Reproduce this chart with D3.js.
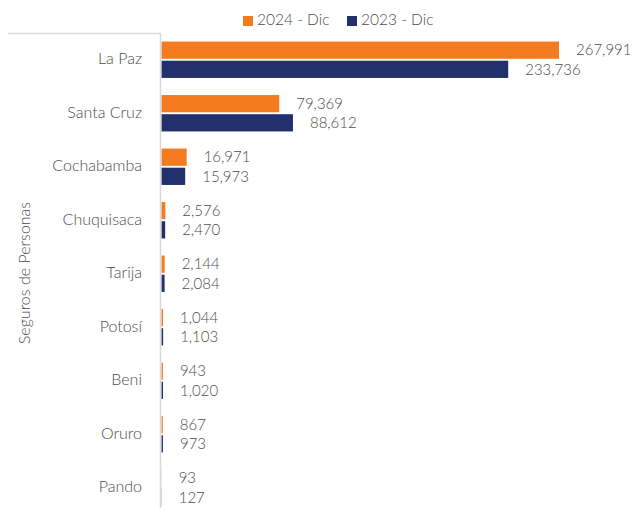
<!DOCTYPE html>
<html>
<head>
<meta charset="utf-8">
<script src="https://cdn.jsdelivr.net/npm/d3@7"></script>
<style>
  html, body { margin: 0; padding: 0; background: #fff; }
  svg { display: block; font-family: Lato, "Open Sans", sans-serif; font-weight: 300; }
</style>
</head>
<body>
<div id="chart"></div>
<script>
// categories and series (Seguros de Personas, Dic)
const categories = ['La Paz', 'Santa Cruz', 'Cochabamba', 'Chuquisaca', 'Tarija', 'Potosí', 'Beni', 'Oruro', 'Pando'];
const series = ['2024 - Dic', '2023 - Dic'];
const values2024 = [267991, 79369, 16971, 2576, 2144, 1044, 943, 867, 93];
const values2023 = [233736, 88612, 15973, 2470, 2084, 1103, 1020, 973, 127];
const colors = ['#f47b20', '#22306b'];
const groupTitle = 'Seguros de Personas';

const width = 633, height = 508;
const svg = d3.select('#chart').append('svg')
    .attr('width', width).attr('height', height);

const textColor = '#4d4d4d';
const lineColor = '#d9d9d9';

// scales
const y = d3.scaleBand().domain(categories).range([33, 33 + 53.5 * categories.length]).paddingInner(0.32).paddingOuter(0.16);
const ySub = d3.scaleBand().domain(series).range([0, y.bandwidth()]).paddingInner(0.1);
const x = d3.scaleLinear().domain([0, 300000]).range([161.5, 606.5]);

const rows = categories.map((c, i) => ({ cat: c, vals: [values2024[i], values2023[i]] }));

// bars
const groups = svg.append('g').selectAll('g').data(rows).join('g')
    .attr('transform', d => `translate(0,${y(d.cat)})`);

groups.selectAll('rect').data(d => d.vals.map((v, k) => ({ s: series[k], v, k }))).join('rect')
    .attr('x', x(0))
    .attr('y', d => ySub(d.s))
    .attr('width', d => x(d.v) - x(0))
    .attr('height', ySub.bandwidth())
    .attr('fill', d => colors[d.k]);

// value labels
groups.selectAll('text').data(d => d.vals.map((v, k) => ({ s: series[k], v, k }))).join('text')
    .attr('x', d => x(d.v) + 17)
    .attr('y', d => ySub(d.s) + ySub.bandwidth() / 2)
    .attr('dy', '0.35em')
    .attr('font-size', 15)
    .attr('fill', textColor)
    .text(d => d3.format(',')(d.v));

// category axis
const axis = svg.append('g');
axis.append('line')
    .attr('x1', 160.5).attr('x2', 160.5).attr('y1', 33).attr('y2', height)
    .attr('stroke', lineColor).attr('stroke-width', 1.5);
axis.append('line')
    .attr('x1', 8).attr('x2', 161).attr('y1', 33.5).attr('y2', 33.5)
    .attr('stroke', lineColor).attr('stroke-width', 1.5);
axis.selectAll('text.cat').data(categories).join('text')
    .attr('class', 'cat')
    .attr('x', 142)
    .attr('y', d => y(d) + y.bandwidth() / 2 - 1)
    .attr('dy', '0.35em')
    .attr('text-anchor', 'end')
    .attr('font-size', 16)
    .attr('fill', textColor)
    .text(d => d);

// group title (rotated)
svg.append('text')
    .attr('transform', 'translate(24,273) rotate(-90)')
    .attr('text-anchor', 'middle')
    .attr('dy', '0.35em')
    .attr('font-size', 16)
    .attr('fill', textColor)
    .text(groupTitle);

// legend
const legend = svg.append('g').attr('transform', 'translate(243,20)');
const legX = [0, 104];
series.forEach((s, k) => {
    const g = legend.append('g').attr('transform', `translate(${legX[k]},0)`);
    g.append('rect').attr('x', 0).attr('y', -4).attr('width', 10).attr('height', 10).attr('fill', colors[k]);
    g.append('text').attr('x', 14).attr('dy', '0.35em')
        .attr('font-size', 15.5).attr('fill', textColor).text(s);
});
</script>
</body>
</html>
